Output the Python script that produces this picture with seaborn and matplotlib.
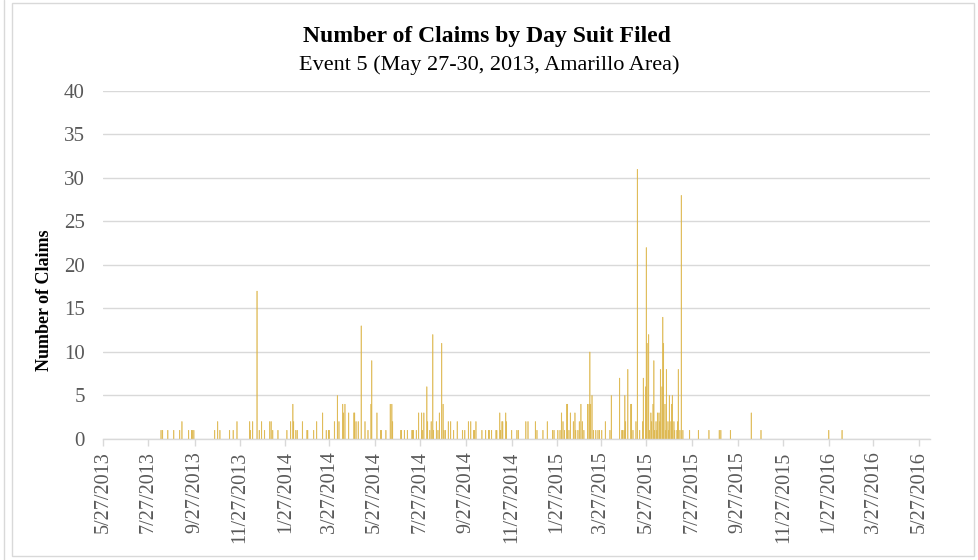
import pandas as pd
import numpy as np
import seaborn as sns
import matplotlib.pyplot as plt
from matplotlib.patches import Rectangle
from matplotlib.lines import Line2D

# Start of the date axis (first day of the event)
start_date = pd.Timestamp("2013-05-27")

# Days after 5/27/2013 on which suits were filed
day_offsets = [78, 80, 87, 95, 103, 106, 115, 119, 120, 122, 150, 154, 157, 170, 175, 180,
               197, 198, 201, 207, 210, 213, 217, 224, 226, 228, 235, 247, 252, 255, 256, 259,
               261, 268, 274, 275, 283, 287, 295, 300, 303, 304, 311, 315, 317, 322, 323, 325,
               330, 337, 338, 340, 343, 347, 352, 356, 360, 361, 368, 373, 374, 380, 386, 388,
               389, 400, 401, 405, 409, 415, 416, 417, 421, 424, 428, 429, 431, 435, 436, 439,
               441, 443, 444, 448, 450, 452, 455, 457, 458, 460, 464, 467, 471, 476, 483, 486,
               491, 494, 498, 499, 501, 509, 514, 518, 519, 522, 528, 529, 533, 534, 536, 537,
               541, 542, 549, 556, 558, 568, 571, 581, 583, 591, 597, 604, 606, 611, 614, 616,
               618, 620, 623, 624, 626, 628, 632, 634, 635, 638, 640, 642, 644, 646, 651, 653,
               654, 655, 657, 659, 662, 665, 667, 670, 675, 681, 683, 694, 697, 698, 700, 701,
               702, 705, 709, 710, 712, 716, 718, 721, 725, 726, 729, 730, 731, 733, 734, 736,
               737, 739, 740, 741, 743, 744, 745, 747, 748, 749, 751, 752, 753, 755, 756, 757,
               759, 760, 761, 763, 764, 765, 767, 768, 771, 772, 773, 775, 777, 779, 788, 800,
               814, 828, 830, 843, 871, 884, 975, 993]

# Number of claims filed on each of those days
claims = [1, 1, 1, 1, 1, 2, 1, 1, 1, 1, 1, 2, 1, 1, 1, 2,
          2, 1, 2, 17, 1, 2, 1, 2, 2, 1, 1, 1, 2, 4, 2, 1,
          1, 2, 1, 1, 1, 2, 3, 1, 1, 1, 2, 5, 2, 4, 3, 4,
          3, 3, 3, 2, 2, 13, 2, 1, 4, 9, 3, 1, 1, 1, 4, 4,
          2, 1, 1, 1, 1, 1, 1, 1, 1, 3, 3, 1, 3, 6, 2, 1,
          2, 12, 1, 2, 1, 3, 11, 4, 1, 1, 2, 2, 1, 2, 1, 1,
          2, 2, 1, 1, 2, 1, 1, 1, 1, 1, 1, 1, 3, 1, 2, 2,
          3, 2, 1, 1, 1, 2, 2, 2, 1, 1, 2, 1, 1, 1, 1, 3,
          2, 1, 4, 4, 1, 3, 2, 3, 1, 1, 2, 4, 2, 1, 4, 4,
          10, 4, 5, 1, 1, 1, 1, 1, 2, 1, 5, 7, 1, 1, 1, 5,
          2, 8, 4, 4, 1, 2, 31, 1, 2, 7, 6, 22, 11, 12, 1, 3,
          2, 4, 9, 1, 2, 1, 3, 3, 2, 8, 6, 14, 11, 4, 1, 8,
          2, 1, 5, 2, 4, 5, 2, 1, 1, 2, 8, 1, 28, 1, 1, 1,
          1, 1, 1, 1, 3, 1, 1, 1]

title = "Number of Claims by Day Suit Filed"
subtitle = "Event 5 (May 27-30, 2013, Amarillo Area)"
y_label = "Number of Claims"

df = pd.DataFrame({"day": day_offsets, "claims": claims})

# Tick every two months, on the 27th
tick_dates = [start_date + pd.DateOffset(months=2 * i) for i in range(19)]
tick_pos = [(d - start_date).days for d in tick_dates]
tick_labels = [f"{d.month}/{d.day}/{d.year}" for d in tick_dates]

sns.set_theme(style="white")
plt.rcParams['font.family'] = ['Liberation Serif', 'DejaVu Serif']

grey_text = "#595959"
grid_col = "#D9D9D9"
bar_color = "#DDB64A"

fig = plt.figure(figsize=(9.79, 5.6), dpi=100)
ax = fig.add_axes([0.1052, 0.2161, 0.8447, 0.6214])

# thin daily bars; a hairline edge keeps every bar visible
sns.barplot(data=df, x="day", y="claims", native_scale=True, color=bar_color,
            saturation=1, errorbar=None, width=0.9, linewidth=0.3,
            edgecolor=bar_color, ax=ax)
# no pixel snapping, so every one-day bar renders the same way
for p in ax.patches:
    p.set_snap(False)

ax.set_xlim(0, 1111)
ax.set_ylim(0, 40)
ax.set_yticks(np.arange(0, 41, 5))
ax.set_xticks(tick_pos)
ax.set_xticklabels(tick_labels, rotation=90, fontsize=14.5, color=grey_text)
ax.tick_params(axis='y', labelsize=15, labelcolor=grey_text, length=0, pad=13)
ax.tick_params(axis='x', length=5, width=1, color=grid_col, pad=4, bottom=True)
ax.yaxis.grid(True, color=grid_col, linewidth=1)
ax.set_axisbelow(True)
ax.set_xlabel("")
ax.set_ylabel("")

for side in ["left", "right", "top"]:
    ax.spines[side].set_visible(False)
ax.spines["bottom"].set_color(grid_col)
ax.spines["bottom"].set_linewidth(1)

# Titles and axis label
fig.text(0.497, 0.934, title, ha="center", va="center", fontsize=17, fontweight="bold", color="black")
fig.text(0.500, 0.884, subtitle, ha="center", va="center", fontsize=16, color="black")
fig.text(0.045, 0.464, y_label, ha="center", va="center", rotation=90, fontsize=13,
         fontweight="bold", color="black")

# Chart frame
fig.patches.append(Rectangle((12 / 979, 4 / 560), 962 / 979, 553 / 560, transform=fig.transFigure,
                             fill=False, edgecolor=grid_col, linewidth=1))
fig.lines.append(Line2D([4 / 979, 4 / 979], [0, 1], transform=fig.transFigure,
                        color=grid_col, linewidth=1))

plt.savefig("out.png", dpi=100)
plt.close()
